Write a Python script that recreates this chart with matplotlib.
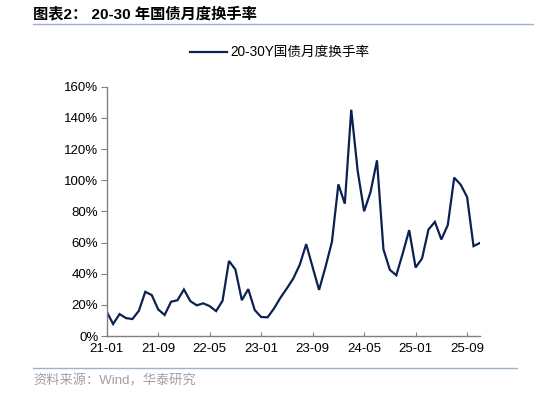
import numpy as np
import matplotlib
matplotlib.use('Agg')
import matplotlib.pyplot as plt
from matplotlib.lines import Line2D

plt.rcParams['font.family'] = ['Liberation Sans', 'Noto Sans CJK SC', 'DejaVu Sans']

# monthly turnover, 21-01 .. 25-11 (%)
months = ['%02d-%02d' % (21 + i // 12, i % 12 + 1) for i in range(59)]
turnover = [15.6, 7.7, 14.1, 11.5, 10.9, 16.2, 28.4, 26.3, 17.1, 13.5,
            22.0, 23.0, 29.9, 22.4, 19.7, 21.0, 19.2, 16.0, 22.6, 48.2,
            42.7, 23.0, 30.1, 16.7, 12.2, 12.0, 17.7, 24.6, 30.6, 37.0,
            45.8, 59.0, 44.2, 29.6, 44.4, 60.5, 97.4, 85.0, 145.3, 106.0,
            80.1, 92.5, 112.8, 55.7, 42.5, 39.0, 53.0, 68.0, 44.0, 49.8,
            68.4, 73.3, 62.0, 71.2, 101.7, 97.2, 89.3, 57.7, 59.8]
series_name = '20-30Y国债月度换手率'
yticks = [0, 20, 40, 60, 80, 100, 120, 140, 160]

navy = '#0b2250'
grey = '#808080'

fig = plt.figure(figsize=(5.34, 3.93), dpi=100)
ax = fig.add_axes([0.1998, 0.145, 0.699, 0.634])

x = np.arange(len(turnover))
ax.plot(x, turnover, color=navy, lw=1.6, solid_joinstyle='miter')

ax.set_xlim(0, len(turnover) - 1)
ax.set_ylim(0, 160)
ax.set_yticks(yticks)
ax.set_yticklabels(['%d%%' % v for v in yticks])
tick_idx = list(range(0, len(months), 8))
ax.set_xticks(tick_idx)
ax.set_xticklabels([months[i] for i in tick_idx])

for s in ['top', 'right']:
    ax.spines[s].set_visible(False)
for s in ['left', 'bottom']:
    ax.spines[s].set_color(grey)
    ax.spines[s].set_linewidth(1.0)
ax.tick_params(axis='y', direction='out', length=4, color=grey, labelsize=9.5, pad=2)
ax.tick_params(axis='x', direction='in', length=3, color=grey, labelsize=9.5, pad=5)

# legend on top
fig.add_artist(Line2D([190 / 534, 227 / 534], [1 - 52 / 393] * 2, color=navy, lw=1.6))
fig.text(230 / 534, 1 - 52 / 393, series_name, fontsize=9.8, va='center', ha='left',
         family=['Liberation Sans', 'Noto Sans CJK SC'])

# header and footer
fig.text(33 / 534, 1 - 14 / 393, '图表2： 20-30 年国债月度换手率', fontsize=11,
         fontweight='bold', va='center', ha='left',
         family=['Liberation Sans', 'Noto Sans CJK SC'])
fig.add_artist(Line2D([33 / 534, 1.0], [1 - 24 / 393] * 2, color='#9fb3c8', lw=1.0))
fig.add_artist(Line2D([33 / 534, 517 / 534], [1 - 368 / 393] * 2, color='#9fb3c8', lw=1.0))
fig.text(33 / 534, 1 - 381 / 393, '资料来源：Wind，华泰研究', fontsize=9.5, color='#a0a0a0',
         va='center', ha='left', family=['Liberation Sans', 'Noto Sans CJK SC'])

fig.savefig('out.png', dpi=100)
